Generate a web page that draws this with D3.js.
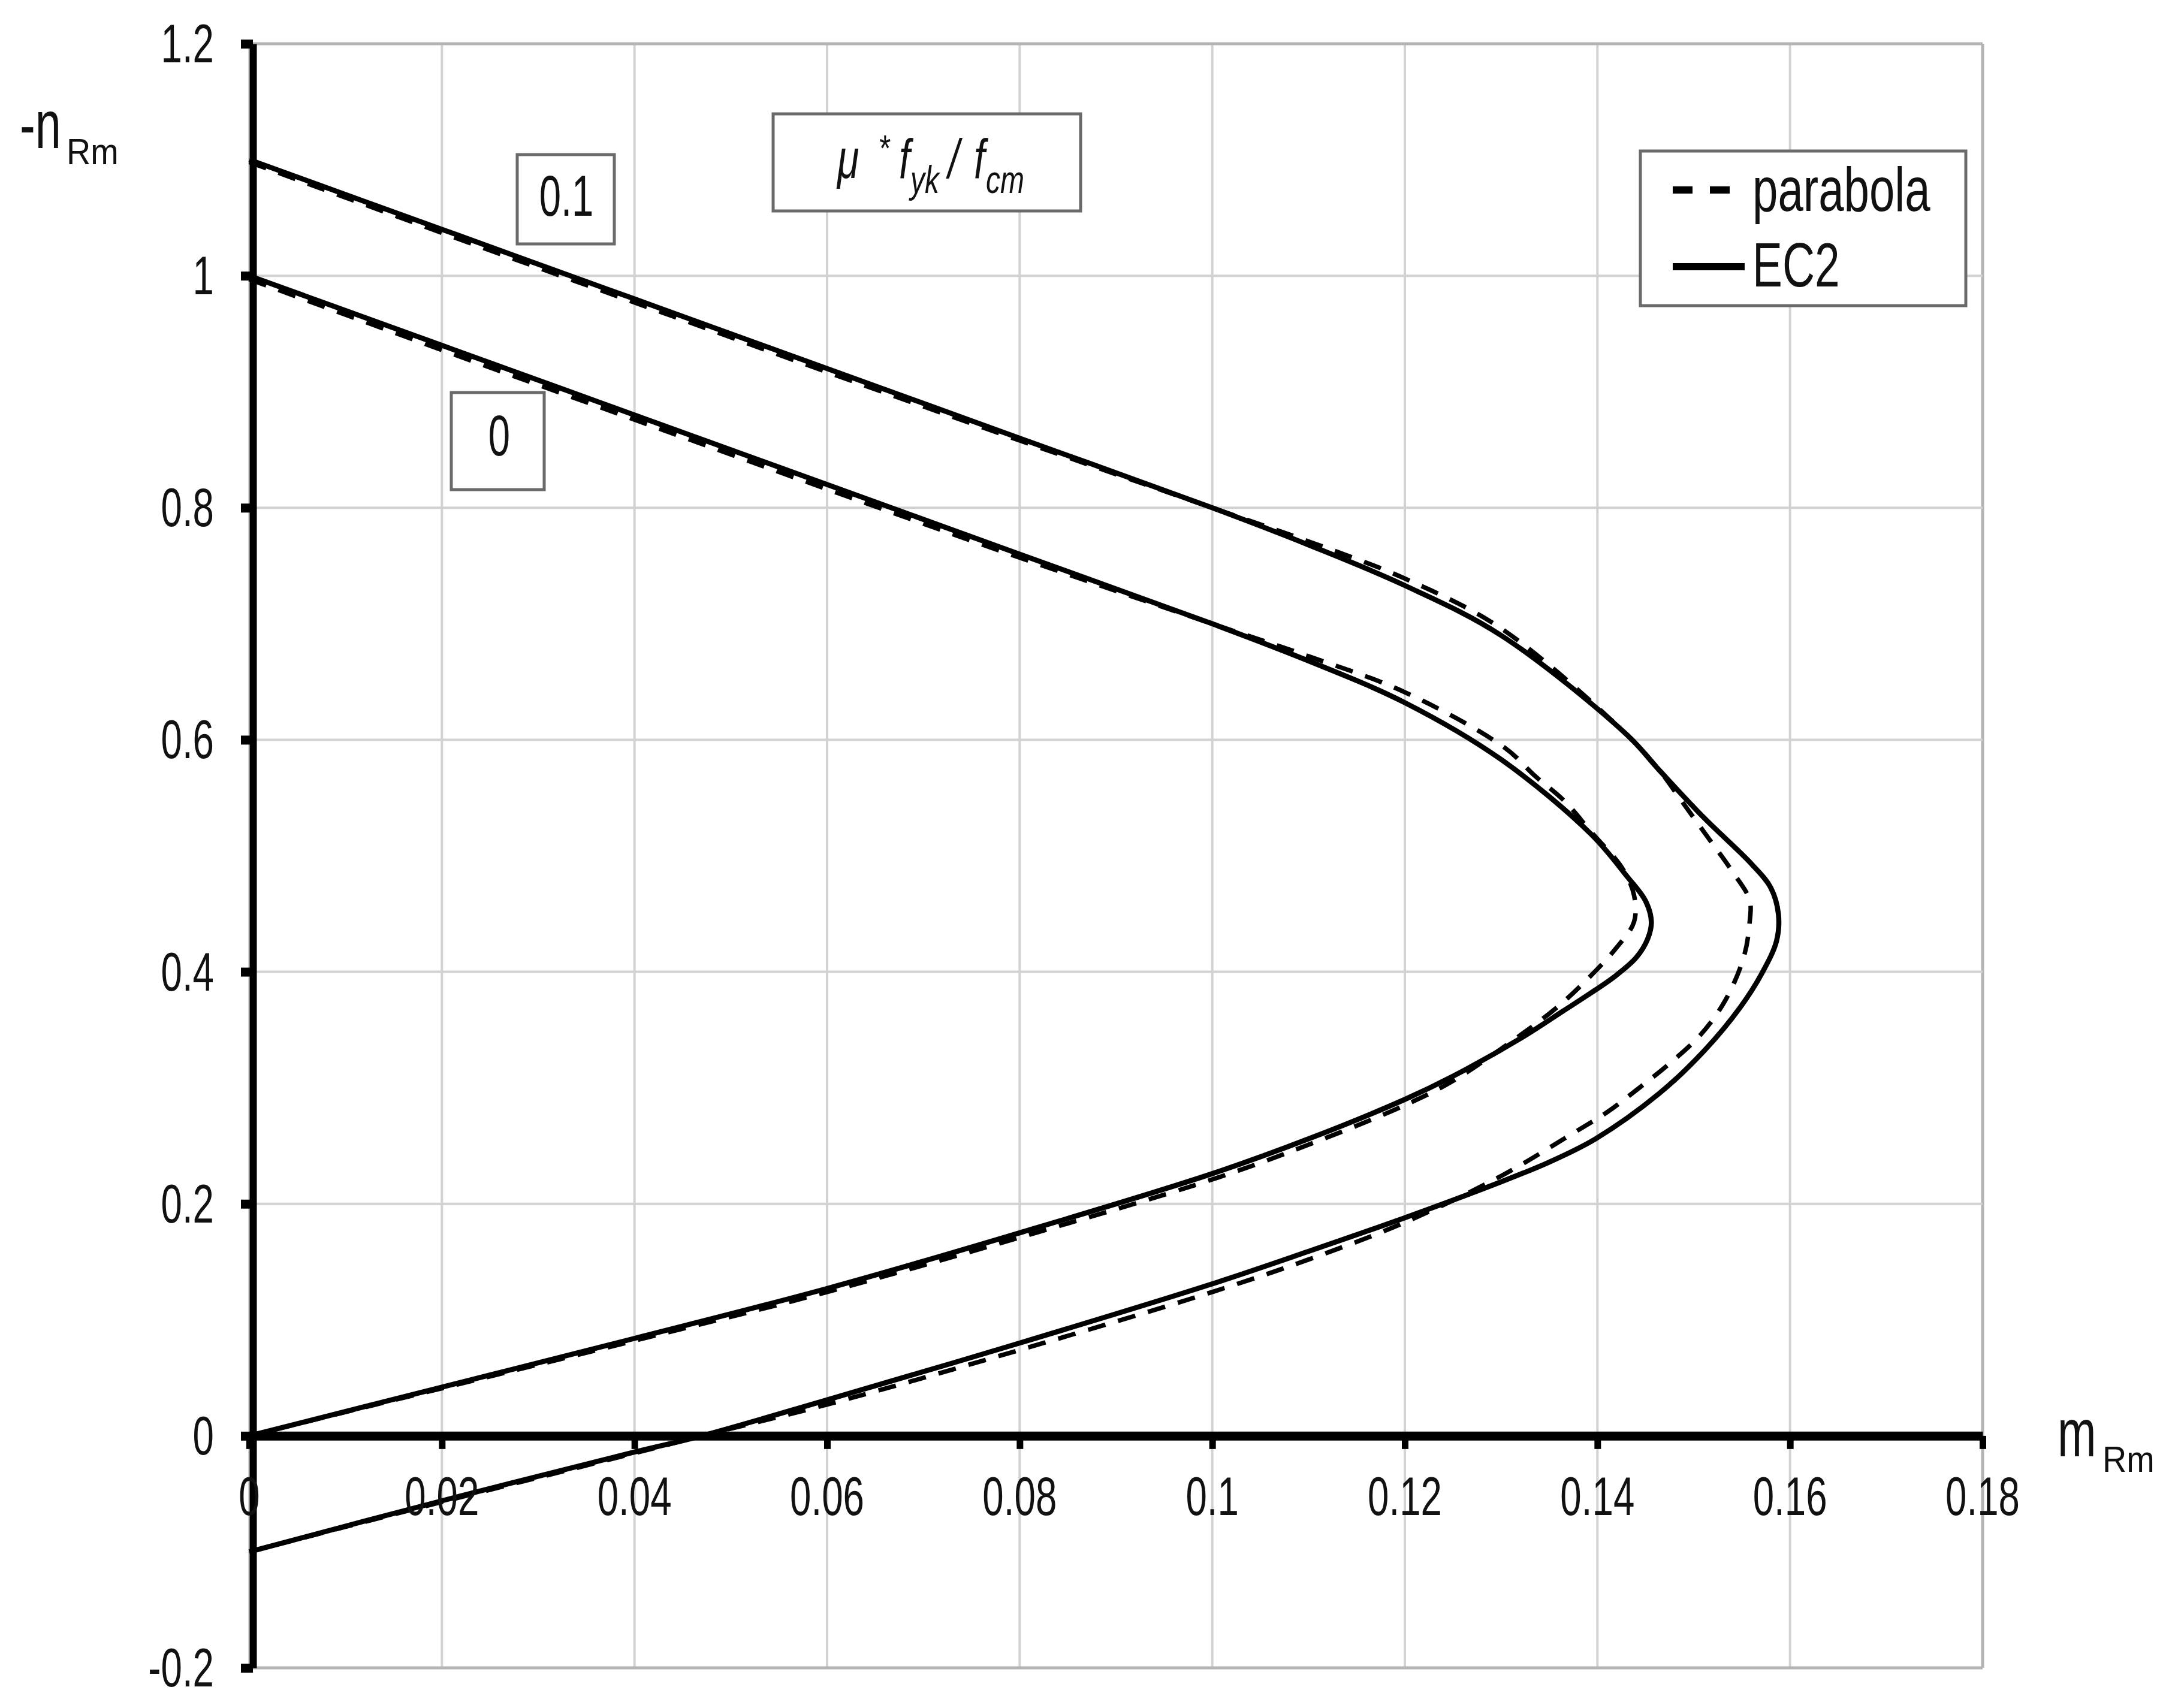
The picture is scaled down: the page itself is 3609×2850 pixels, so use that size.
<!DOCTYPE html>
<html>
<head>
<meta charset="utf-8">
<script src="https://cdn.jsdelivr.net/npm/d3@7"></script>
<style>
  html, body { margin: 0; padding: 0; background: #fff; }
  svg { display: block; }
  text { font-family: "Liberation Sans", Arial, sans-serif; fill: #111; }
</style>
</head>
<body>
<script>
// ---------------- DATA ----------------
const xTicks = [0, 0.02, 0.04, 0.06, 0.08, 0.10, 0.12, 0.14, 0.16, 0.18];
const xTickLabels = ["0", "0.02", "0.04", "0.06", "0.08", "0.1", "0.12", "0.14", "0.16", "0.18"];
const yTicks = [-0.2, 0, 0.2, 0.4, 0.6, 0.8, 1.0, 1.2];
const yTickLabels = ["-0.2", "0", "0.2", "0.4", "0.6", "0.8", "1", "1.2"];

// mu*fyk/fcm = 0, EC2 (solid)
const ec2Mu0_m = [0, 0.02, 0.04, 0.06, 0.08, 0.10, 0.11, 0.12, 0.13, 0.1393, 0.1431, 0.145, 0.1456, 0.1452, 0.1440, 0.1418, 0.139, 0.1364, 0.1321, 0.125, 0.12, 0.11, 0.10, 0.08, 0.06, 0.04, 0.02, 0];
const ec2Mu0_n = [1.0, 0.94, 0.88, 0.82, 0.76, 0.70, 0.668, 0.632, 0.583, 0.519, 0.482, 0.461, 0.443, 0.428, 0.412, 0.396, 0.380, 0.366, 0.343, 0.31, 0.29, 0.256, 0.226, 0.175, 0.127, 0.084, 0.042, 0];
// mu*fyk/fcm = 0, parabola (dashed)
const parMu0_m = [0, 0.02, 0.04, 0.06, 0.08, 0.10, 0.11, 0.12, 0.1304, 0.1335, 0.1366, 0.1393, 0.1426, 0.1438, 0.1438, 0.1419, 0.139, 0.1359, 0.1321, 0.125, 0.12, 0.11, 0.10, 0.08, 0.06, 0.04, 0.02, 0];
const parMu0_n = [0.997, 0.936, 0.876, 0.816, 0.757, 0.700, 0.672, 0.641, 0.593, 0.569, 0.547, 0.521, 0.489, 0.466, 0.443, 0.420, 0.394, 0.370, 0.346, 0.306, 0.285, 0.251, 0.221, 0.171, 0.124, 0.082, 0.041, 0];
// mu*fyk/fcm = 0.1, EC2 (solid)
const ec2Mu1_m = [0, 0.02, 0.04, 0.06, 0.08, 0.10, 0.11, 0.12, 0.13, 0.1431, 0.1464, 0.1511, 0.156, 0.158, 0.1588, 0.1586, 0.1571, 0.1548, 0.1511, 0.1464, 0.1398, 0.135, 0.13, 0.12, 0.11, 0.10, 0.08, 0.06, 0.047, 0.04, 0.02, 0];
const ec2Mu1_n = [1.1, 1.04, 0.98, 0.92, 0.86, 0.80, 0.768, 0.733, 0.690, 0.604, 0.574, 0.5325, 0.493, 0.4725, 0.4494, 0.4266, 0.399, 0.369, 0.332, 0.295, 0.256, 0.236, 0.219, 0.188, 0.159, 0.131, 0.080, 0.031, 0, -0.014, -0.056, -0.1];
// mu*fyk/fcm = 0.1, parabola (dashed)
const parMu1_m = [0, 0.02, 0.04, 0.06, 0.08, 0.10, 0.11, 0.12, 0.13, 0.1431, 0.1464, 0.1488, 0.1514, 0.154, 0.1558, 0.1558, 0.1552, 0.1533, 0.1507, 0.1474, 0.1443, 0.141, 0.1373, 0.13, 0.12, 0.11, 0.10, 0.08, 0.06, 0.047, 0.04, 0.02, 0];
const parMu1_n = [1.098, 1.037, 0.977, 0.917, 0.858, 0.800, 0.771, 0.739, 0.696, 0.604, 0.574, 0.5466, 0.5167, 0.4866, 0.462, 0.442, 0.4128, 0.3757, 0.3456, 0.3203, 0.2997, 0.279, 0.260, 0.224, 0.184, 0.152, 0.124, 0.074, 0.027, 0, -0.015, -0.057, -0.1];

const legendLabels = ["parabola", "EC2"];
const curveLabels = ["0.1", "0"];

// ---------------- CHART ----------------
const W = 3609, H = 2850;
const svg = d3.select("body").append("svg").attr("width", W).attr("height", H);

const x = d3.scaleLinear().domain([0, 0.18]).range([416, 3308]);
const y = d3.scaleLinear().domain([-0.2, 1.2]).range([2783, 73]);

function zip(ms, ns) { return ms.map((m, i) => [m, ns[i]]); }

function ctext(parent, px, py, str, size, sx, anchor, italic) {
  const t = parent.append("text")
    .attr("transform", `translate(${px},${py}) scale(${sx},1)`)
    .attr("x", 0).attr("y", 0)
    .attr("font-size", size)
    .attr("text-anchor", anchor || "start")
    .text(str);
  if (italic) t.attr("font-style", "italic");
  return t;
}

// gridlines
const grid = svg.append("g");
grid.selectAll("line.vg").data(xTicks).enter().append("line")
  .attr("x1", d => x(d)).attr("x2", d => x(d))
  .attr("y1", y(1.2)).attr("y2", y(-0.2))
  .attr("stroke", (d, i) => i === xTicks.length - 1 ? "#b4b4b4" : "#d2d2d2")
  .attr("stroke-width", (d, i) => i === xTicks.length - 1 ? 5 : 4);
grid.selectAll("line.hg").data(yTicks).enter().append("line")
  .attr("x1", x(0)).attr("x2", x(0.18))
  .attr("y1", d => y(d)).attr("y2", d => y(d))
  .attr("stroke", (d, i) => (i === 0 || i === yTicks.length - 1) ? "#b4b4b4" : "#d2d2d2")
  .attr("stroke-width", (d, i) => (i === 0 || i === yTicks.length - 1) ? 5 : 4);

// curves
const line = d3.line().x(d => x(d[0])).y(d => y(d[1])).curve(d3.curveCatmullRom.alpha(0.5));
const curves = svg.append("g").attr("fill", "none").attr("stroke", "#000").attr("stroke-linejoin", "round");
[zip(parMu0_m, parMu0_n), zip(parMu1_m, parMu1_n)].forEach(pts => {
  curves.append("path").attr("d", line(pts)).attr("stroke-width", 7.5).attr("stroke-dasharray", "30,22");
});
[zip(ec2Mu0_m, ec2Mu0_n), zip(ec2Mu1_m, ec2Mu1_n)].forEach(pts => {
  curves.append("path").attr("d", line(pts)).attr("stroke-width", 8.5);
});

// axes
const yAxis = d3.axisLeft(y).tickValues(yTicks).tickSize(14).tickSizeOuter(0).tickFormat("");
const yg = svg.append("g").attr("transform", `translate(${x(0) + 6},0)`).call(yAxis);
yg.select(".domain").attr("stroke", "#000").attr("stroke-width", 12);
yg.selectAll(".tick line").attr("stroke", "#000").attr("stroke-width", 15).attr("x2", -20);

const xAxis = d3.axisBottom(x).tickValues(xTicks).tickSize(22).tickSizeOuter(0).tickFormat("");
const xg = svg.append("g").attr("transform", `translate(0,${y(0)})`).call(xAxis);
xg.select(".domain").attr("stroke", "#000").attr("stroke-width", 15);
xg.selectAll(".tick line").attr("stroke", "#000").attr("stroke-width", 11);

// tick labels
const lab = svg.append("g");
yTicks.forEach((v, i) => ctext(lab, 357, y(v) + 31, yTickLabels[i], 91, 0.7, "end"));
xTicks.forEach((v, i) => ctext(lab, x(v), 2528, xTickLabels[i], 91, 0.7, "middle"));

// axis titles
ctext(lab, 33, 247, "-n", 114, 0.68, "start");
ctext(lab, 111, 274, "Rm", 62, 0.9, "start");
ctext(lab, 3433, 2430, "m", 114, 0.68, "start");
ctext(lab, 3508, 2456, "Rm", 62, 0.9, "start");

// annotation boxes
const ann = svg.append("g");
function box(x0, y0, x1, y1) {
  ann.append("rect").attr("x", x0).attr("y", y0).attr("width", x1 - x0).attr("height", y1 - y0)
    .attr("fill", "#fff").attr("stroke", "#6a6a6a").attr("stroke-width", 5);
}
box(863, 258, 1025, 407);
ctext(ann, 945, 360, curveLabels[0], 96, 0.68, "middle");
box(753, 655, 908, 817);
ctext(ann, 833, 760, curveLabels[1], 96, 0.68, "middle");

// formula box: μ * f_yk / f_cm
box(1290, 190, 1803, 352);
ctext(ann, 1397, 297, "μ", 92, 0.72, "start", true);
ctext(ann, 1465, 268, "*", 62, 0.8, "start", true);
ctext(ann, 1500, 297, "f", 92, 0.72, "start", true);
ctext(ann, 1519, 322, "yk", 64, 0.75, "start", true);
ctext(ann, 1582, 297, "/", 92, 0.72, "start", true);
ctext(ann, 1625, 297, "f", 92, 0.72, "start", true);
ctext(ann, 1645, 322, "cm", 64, 0.75, "start", true);

// legend
const leg = svg.append("g");
leg.append("rect").attr("x", 2737).attr("y", 252).attr("width", 543).attr("height", 258)
  .attr("fill", "#fff").attr("stroke", "#6a6a6a").attr("stroke-width", 5);
leg.append("line").attr("x1", 2791).attr("x2", 2889).attr("y1", 317).attr("y2", 317)
  .attr("stroke", "#000").attr("stroke-width", 12).attr("stroke-dasharray", "33,29");
leg.append("line").attr("x1", 2791).attr("x2", 2911).attr("y1", 445).attr("y2", 445)
  .attr("stroke", "#000").attr("stroke-width", 12);
ctext(leg, 2924, 352, legendLabels[0], 103, 0.74, "start");
ctext(leg, 2924, 478, legendLabels[1], 104, 0.72, "start");
</script>
</body>
</html>
